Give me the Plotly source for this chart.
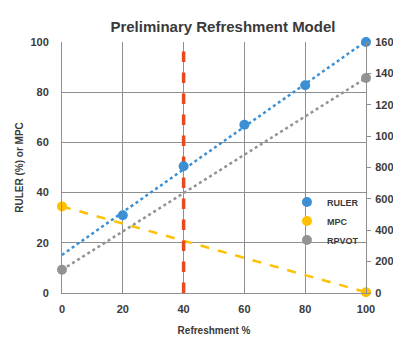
import numpy as np
import plotly.graph_objects as go

# Data
ruler_x = [20, 40, 60, 80, 100]
ruler_y = [31, 50.5, 67, 82.8, 100]
mpc_x = [0, 100]
mpc_y = [34.5, 0.3]
rpvot_x = [0, 100]
rpvot_y = [148, 1370]
marker_line_x = 40
xticks = [0, 20, 40, 60, 80, 100]

BLUE = "#3b8fd2"
YELLOW = "#ffc000"
GREY = "#939393"
RED = "#e8491f"
FONT = "Liberation Sans"
TXT = "#3a3a3a"
GRID = "#8f8f8f"

fig = go.Figure()

def trend(xs, ys):
    k, b = np.polyfit(xs, ys, 1)
    tx = np.array([0, 100])
    return tx, k * tx + b

# trendlines
tx, ty = trend(ruler_x, ruler_y)
fig.add_trace(go.Scatter(x=tx, y=ty, mode="lines", showlegend=False,
                         line=dict(color=BLUE, width=2.5, dash="dot"), hoverinfo="skip"))
tx, ty = trend(mpc_x, mpc_y)
fig.add_trace(go.Scatter(x=tx, y=ty, mode="lines", showlegend=False,
                         line=dict(color=YELLOW, width=2.5, dash="dash"), hoverinfo="skip"))
tx, ty = trend(rpvot_x, rpvot_y)
fig.add_trace(go.Scatter(x=tx, y=ty, mode="lines", showlegend=False, yaxis="y2",
                         line=dict(color=GREY, width=2.5, dash="dot"), hoverinfo="skip"))

# vertical red dashed line
fig.add_trace(go.Scatter(x=[marker_line_x, marker_line_x], y=[0, 100], mode="lines",
                         showlegend=False, line=dict(color=RED, width=3.5, dash="dash")))

# markers
fig.add_trace(go.Scatter(x=ruler_x, y=ruler_y, mode="markers", name="RULER",
                         marker=dict(color=BLUE, size=10), cliponaxis=False))
fig.add_trace(go.Scatter(x=mpc_x, y=mpc_y, mode="markers", name="MPC",
                         marker=dict(color=YELLOW, size=10), cliponaxis=False))
fig.add_trace(go.Scatter(x=rpvot_x, y=rpvot_y, mode="markers", name="RPVOT", yaxis="y2",
                         marker=dict(color=GREY, size=10), cliponaxis=False))

BOLD = dict(family=FONT, color=TXT, weight="bold")

fig.update_layout(
    width=401, height=338,
    margin=dict(l=54, r=43, t=34, b=53),
    paper_bgcolor="white", plot_bgcolor="white",
    font=dict(family=FONT, size=11, color=TXT),
    title=dict(text="Preliminary Refreshment Model", x=0.536, xanchor="center",
               y=0.945, yanchor="middle", font=dict(size=15, **BOLD)),
    xaxis=dict(range=[0, 100], tickvals=xticks, showgrid=True, gridcolor=GRID,
               gridwidth=1, showline=True, linecolor=GRID, zeroline=False,
               ticks="", ticklabelstandoff=6, automargin=False,
               tickfont=dict(size=11, **BOLD),
               title=dict(text="Refreshment %", font=dict(size=10, **BOLD), standoff=12)),
    yaxis=dict(range=[0, 100], dtick=20, showgrid=True, gridcolor=GRID, gridwidth=1,
               showline=True, linecolor=GRID, zeroline=False, ticks="",
               ticklabelstandoff=10, automargin=False,
               tickfont=dict(size=11, **BOLD),
               title=dict(text="RULER (%) or MPC", font=dict(size=10, **BOLD), standoff=4)),
    yaxis2=dict(range=[0, 1600], dtick=200, overlaying="y", side="right", showgrid=False,
                showline=True, linecolor=GRID, zeroline=False, ticks="outside",
                ticklen=4, tickcolor=GRID, automargin=False, ticklabelstandoff=2,
                tickfont=dict(size=11, **BOLD)),
    legend=dict(x=0.74, y=0.42, xanchor="left", yanchor="top", bgcolor="rgba(0,0,0,0)",
                font=dict(size=9, **BOLD), itemwidth=30,
                tracegroupgap=0),
)

fig.write_html("out.html")
